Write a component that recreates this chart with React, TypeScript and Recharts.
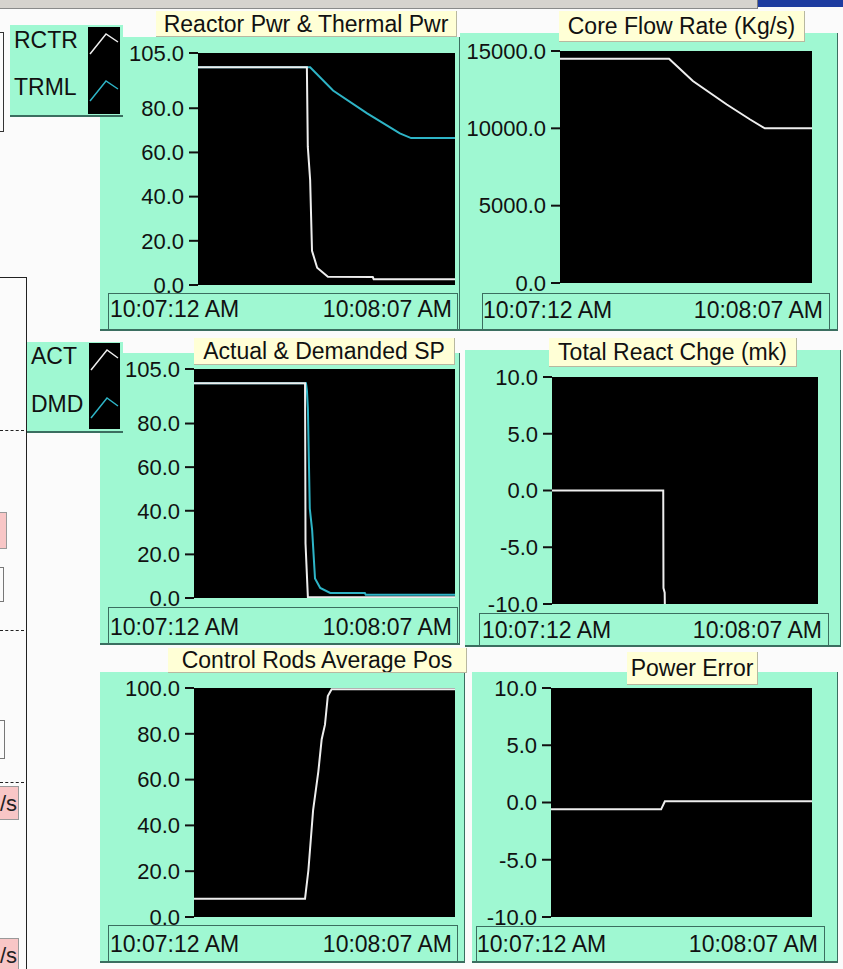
import React from 'react';
import { LineChart, Line, XAxis, YAxis, CartesianGrid } from 'recharts';

// ---------- data ----------
const timeTicks = [0, 55]; // seconds after 10:07:12
const timeLabels = ['10:07:12 AM', '10:08:07 AM'];

const pwrTicks = [0, 20, 40, 60, 80, 105];
const flowTicks = [0, 5000, 10000, 15000];
const mkTicks = [-10, -5, 0, 5, 10];
const rodTicks = [0, 20, 40, 60, 80, 100];

const rctrTime = [0, 23.3, 23.5, 24.0, 24.4, 25.5, 27.8, 37.4, 37.6, 55];
const rctrValue = [98.5, 98.5, 62.6, 47.5, 15.5, 7.8, 3.7, 3.6, 2.6, 2.6];

const trmlTime = [0, 24.0, 28.9, 36.2, 43.2, 45.6, 55];
const trmlValue = [98.5, 98.5, 88, 77.7, 68.6, 66.5, 66.5];

const flowTime = [0, 23.8, 29.0, 36.4, 41.5, 44.7, 55];
const flowValue = [14500, 14500, 13060, 11540, 10570, 10000, 10000];

const actTime = [0, 23.4, 23.5, 24.0, 55];
const actValue = [98.5, 98.5, 25, 0.3, 0.3];

const dmdTime = [0, 23.6, 23.8, 24.0, 24.4, 24.9, 25.5, 26.6, 28.7, 36.0, 36.2, 55];
const dmdValue = [98.5, 98.5, 95, 87, 41, 31, 9, 4.6, 2.3, 2.3, 1.5, 1.5];

const reactTime = [0, 23.0, 23.05, 23.3, 23.45, 55];
const reactValue = [0, 0, -8.6, -9.0, -14, -14];

const rodTime = [0, 23.4, 24.1, 25.1, 26.2, 26.9, 27.6, 28.2, 29.0, 55];
const rodValue = [8, 8, 20.3, 46.7, 63.5, 77.5, 84, 96.5, 99.5, 99.5];

const errTime = [0, 23.2, 24.0, 55];
const errValue = [-0.6, -0.6, 0.1, 0.1];

// ---------- styles ----------
const FONT = "'Liberation Sans', Arial, Helvetica, sans-serif";
const GREEN = '#9FF8D2';
const CREAM = '#FFFFD6';
const WHITE_LINE = '#EEEEEE';
const CYAN = '#2EB4C6';
const BORDER = '#3B6E60';

const toPoints = (ts: number[], vs: number[]) => ts.map((t, i) => ({ t, v: vs[i] }));

type Rect = { l: number; t: number; r: number; b: number };
type Series = { name: string; data: { t: number; v: number }[]; color: string };
type Panel = {
  title: string;
  titleBox: Rect;
  panelBox: Rect;
  labelBox: Rect;
  plot: Rect;
  domain: [number, number];
  ticks: number[];
  series: Series[];
  labelBaseline: number;
  leftOff: number;
  rightOff: number;
};

const panels: Panel[] = [
  {
    title: 'Reactor Pwr & Thermal Pwr',
    titleBox: { l: 156, t: 11, r: 457, b: 37 },
    panelBox: { l: 100, t: 37, r: 460, b: 331 },
    labelBox: { l: 108, t: 293, r: 458, b: 331 },
    plot: { l: 198, t: 53, r: 455, b: 285 },
    domain: [0, 105],
    ticks: pwrTicks,
    series: [
      { name: 'TRML', data: toPoints(trmlTime, trmlValue), color: CYAN },
      { name: 'RCTR', data: toPoints(rctrTime, rctrValue), color: WHITE_LINE },
    ],
    labelBaseline: 317,
    leftOff: -88,
    rightOff: -3,
  },
  {
    title: 'Core Flow Rate (Kg/s)',
    titleBox: { l: 559, t: 11, r: 805, b: 42 },
    panelBox: { l: 460, t: 33, r: 838, b: 331 },
    labelBox: { l: 482, t: 293, r: 830, b: 331 },
    plot: { l: 560, t: 51, r: 812, b: 283 },
    domain: [0, 15000],
    ticks: flowTicks,
    series: [{ name: 'FLOW', data: toPoints(flowTime, flowValue), color: WHITE_LINE }],
    labelBaseline: 318,
    leftOff: -77,
    rightOff: 11,
  },
  {
    title: 'Actual & Demanded SP',
    titleBox: { l: 194, t: 338, r: 455, b: 365 },
    panelBox: { l: 100, t: 353, r: 460, b: 645 },
    labelBox: { l: 108, t: 607, r: 458, b: 645 },
    plot: { l: 194, t: 369, r: 455, b: 598 },
    domain: [0, 105],
    ticks: pwrTicks,
    series: [
      { name: 'DMD', data: toPoints(dmdTime, dmdValue), color: CYAN },
      { name: 'ACT', data: toPoints(actTime, actValue), color: WHITE_LINE },
    ],
    labelBaseline: 635,
    leftOff: -84,
    rightOff: -3,
  },
  {
    title: 'Total React Chge (mk)',
    titleBox: { l: 549, t: 338, r: 797, b: 367 },
    panelBox: { l: 465, t: 350, r: 841, b: 647 },
    labelBox: { l: 479, t: 613, r: 829, b: 647 },
    plot: { l: 552, t: 377, r: 818, b: 604 },
    domain: [-10, 10],
    ticks: mkTicks,
    series: [{ name: 'MK', data: toPoints(reactTime, reactValue), color: WHITE_LINE }],
    labelBaseline: 638,
    leftOff: -70,
    rightOff: 4,
  },
  {
    title: 'Control Rods Average Pos',
    titleBox: { l: 168, t: 648, r: 467, b: 673 },
    panelBox: { l: 100, t: 672, r: 465, b: 963 },
    labelBox: { l: 108, t: 925, r: 458, b: 963 },
    plot: { l: 194, t: 688, r: 455, b: 917 },
    domain: [0, 100],
    ticks: rodTicks,
    series: [{ name: 'ROD', data: toPoints(rodTime, rodValue), color: WHITE_LINE }],
    labelBaseline: 952,
    leftOff: -84,
    rightOff: -3,
  },
  {
    title: 'Power Error',
    titleBox: { l: 627, t: 652, r: 758, b: 685 },
    panelBox: { l: 472, t: 672, r: 838, b: 963 },
    labelBox: { l: 476, t: 926, r: 825, b: 963 },
    plot: { l: 551, t: 688, r: 812, b: 917 },
    domain: [-10, 10],
    ticks: mkTicks,
    series: [{ name: 'ERR', data: toPoints(errTime, errValue), color: WHITE_LINE }],
    labelBaseline: 952,
    leftOff: -74,
    rightOff: 6,
  },
];

const box = (r: Rect): React.CSSProperties => ({
  position: 'absolute',
  left: r.l,
  top: r.t,
  width: r.r - r.l,
  height: r.b - r.t,
  boxSizing: 'border-box',
});

function PanelChart({ p }: { p: Panel }) {
  const yW = 100;
  const mTop = 16;
  const mRight = 24;
  const xH = 45;
  const pw = p.plot.r - p.plot.l;
  const ph = p.plot.b - p.plot.t;
  const w = pw + yW + mRight;
  const h = ph + mTop + xH;
  const plotLeft = yW;
  const plotRight = yW + pw;
  const baseline = p.labelBaseline - (p.plot.t - mTop);
  const XTick = (props: any) => {
    const i = timeTicks.indexOf(props.payload.value);
    const first = i === 0;
    return (
      <text
        x={first ? plotLeft + p.leftOff : plotRight + p.rightOff}
        y={baseline}
        textAnchor={first ? 'start' : 'end'}
        fontSize={23}
        fill="#111"
        fontFamily={FONT}
      >
        {timeLabels[i]}
      </text>
    );
  };
  return (
    <div style={{ position: 'absolute', left: p.plot.l - yW, top: p.plot.t - mTop }}>
      <LineChart width={w} height={h} margin={{ top: mTop, right: mRight, left: 0, bottom: 0 }}>
        <CartesianGrid fill="#000" horizontal={false} vertical={false} />
        <XAxis
          type="number"
          dataKey="t"
          domain={[0, 55]}
          ticks={timeTicks}
          interval={0}
          height={xH}
          axisLine={false}
          tickLine={false}
          tick={XTick}
          allowDataOverflow
        />
        <YAxis
          type="number"
          domain={p.domain}
          ticks={p.ticks}
          interval={0}
          width={yW}
          axisLine={false}
          tickLine={{ stroke: '#111', strokeWidth: 2 }}
          tickSize={9}
          tickMargin={5}
          tick={{ fontSize: 22, fill: '#111', fontFamily: FONT }}
          tickFormatter={(v: number) => v.toFixed(1)}
          allowDataOverflow
        />
        {p.series.map((s) => (
          <Line
            key={s.name}
            data={s.data}
            dataKey="v"
            name={s.name}
            type="linear"
            stroke={s.color}
            strokeWidth={2}
            dot={false}
            activeDot={false}
            isAnimationActive={false}
          />
        ))}
      </LineChart>
    </div>
  );
}

type LegendDef = { box: Rect; swatch: Rect; items: { label: string; color: string; y: number }[] };

const legends: LegendDef[] = [
  {
    box: { l: 10, t: 25, r: 123, b: 117 },
    swatch: { l: 88, t: 27, r: 120, b: 114 },
    items: [
      { label: 'RCTR', color: WHITE_LINE, y: 54 },
      { label: 'TRML', color: CYAN, y: 101 },
    ],
  },
  {
    box: { l: 27, t: 342, r: 123, b: 433 },
    swatch: { l: 89, t: 343, r: 120, b: 429 },
    items: [
      { label: 'ACT', color: WHITE_LINE, y: 370 },
      { label: 'DMD', color: CYAN, y: 418 },
    ],
  },
];

function LegendBox({ lg }: { lg: LegendDef }) {
  const sw = lg.swatch;
  return (
    <>
      <div style={{ ...box(lg.box), background: GREEN, borderBottom: `2px solid ${BORDER}` }} />
      <div style={{ ...box(sw), background: '#000' }} />
      <svg style={{ position: 'absolute', left: 0, top: 0 }} width={130} height={969}>
        {lg.items.map((it) => (
          <g key={it.label}>
            <text x={lg.box.l + 4} y={it.y - 6} fontSize={23} fill="#111" fontFamily={FONT}>
              {it.label}
            </text>
            <polyline
              points={`${sw.l + 2},${it.y} ${sw.l + 18},${it.y - 20} ${sw.r - 2},${it.y - 12}`}
              fill="none"
              stroke={it.color}
              strokeWidth={1.5}
            />
          </g>
        ))}
      </svg>
    </>
  );
}

export default function App() {
  return (
    <div
      style={{
        position: 'absolute',
        left: 0,
        top: 0,
        width: 843,
        height: 969,
        overflow: 'hidden',
        background: '#FBFBFB',
        fontFamily: FONT,
      }}
    >
      {/* window frame strip */}
      <div style={{ position: 'absolute', left: 0, top: 0, width: 757, height: 8, background: '#D6D3CE', borderBottom: '1px solid #8A8A8A', borderRight: '1px solid #7A7A7A' }} />
      <div style={{ position: 'absolute', left: 758, top: 0, width: 85, height: 7, background: '#1E3CA0' }} />

      {/* left partial controls */}
      <div style={{ position: 'absolute', left: -10, top: 32, width: 12, height: 98, border: '1px solid #333' }} />
      <div style={{ position: 'absolute', left: -10, top: 277, width: 35, height: 800, border: '1.5px solid #222' }} />
      {[430, 630, 782].map((y) => (
        <div key={y} style={{ position: 'absolute', left: 0, top: y, width: 24, height: 0, borderTop: '1.5px dashed #222' }} />
      ))}
      <div style={{ position: 'absolute', left: -20, top: 512, width: 25, height: 35, background: '#F8C6C6', border: '1px solid #999' }} />
      <div style={{ position: 'absolute', left: -20, top: 567, width: 22, height: 33, border: '1px solid #777' }} />
      <div style={{ position: 'absolute', left: -20, top: 720, width: 23, height: 37, border: '1px solid #777' }} />
      {[786, 938].map((y) => (
        <div key={y} style={{ position: 'absolute', left: -30, top: y, width: 49, height: 34, background: '#F8C6C6', border: '1px solid #999', fontSize: 22, lineHeight: '34px', textAlign: 'right', color: '#222', paddingRight: 1, boxSizing: 'border-box' }}>
          /s
        </div>
      ))}

      {/* panel backgrounds */}
      {panels.map((p) => (
        <React.Fragment key={p.title}>
          <div style={{ ...box(p.panelBox), background: GREEN, borderBottom: `2px solid ${BORDER}`, borderRight: `1px solid ${BORDER}` }} />
          <div style={{ ...box(p.labelBox), borderTop: `1.5px solid ${BORDER}`, borderLeft: `1.5px solid ${BORDER}`, borderRight: `1px solid ${BORDER}` }} />
        </React.Fragment>
      ))}

      {legends.map((lg, i) => (
        <LegendBox key={i} lg={lg} />
      ))}

      {panels.map((p) => (
        <PanelChart key={p.title} p={p} />
      ))}

      {/* titles */}
      {panels.map((p) => (
        <div
          key={p.title + '-t'}
          style={{
            ...box(p.titleBox),
            background: CREAM,
            borderRight: '1px solid #B8B8A0',
            borderBottom: '1px solid #B8B8A0',
            fontSize: 23,
            color: '#111',
            textAlign: 'center',
            lineHeight: `${p.titleBox.b - p.titleBox.t}px`,
            whiteSpace: 'nowrap',
            overflow: 'hidden',
          }}
        >
          {p.title}
        </div>
      ))}
    </div>
  );
}
